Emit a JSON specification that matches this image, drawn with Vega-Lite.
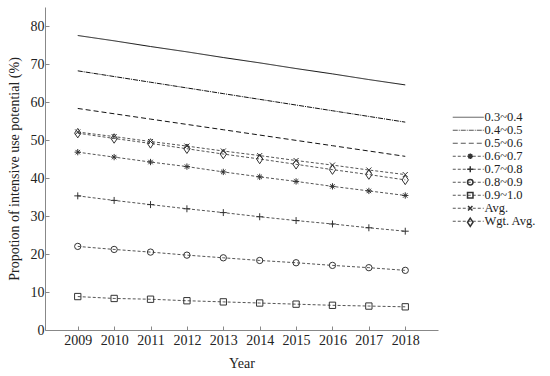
{
  "$schema": "https://vega.github.io/schema/vega-lite/v6.json",
  "width": 393,
  "height": 323,
  "autosize": {"type": "none"},
  "padding": {"left": 45, "top": 7, "right": 112, "bottom": 46},
  "background": "white",
  "config": {
    "view": {"stroke": null},
    "font": "Liberation Serif",
    "axis": {"labelFont": "Liberation Serif", "titleFont": "Liberation Serif", "labelFontSize": 14, "titleFontSize": 14, "titleFontWeight": "normal", "labelColor": "#222", "titleColor": "#222", "domainColor": "#888", "tickColor": "#888", "grid": false},
    "legend": {"labelFont": "Liberation Serif", "labelFontSize": 12.5, "labelColor": "#222", "padding": 0, "rowPadding": 0}
  },
  "data": {"values": [
    {"year": 2009, "series": "0.3~0.4", "value": 77.5}, {"year": 2010, "series": "0.3~0.4", "value": 76.1}, {"year": 2011, "series": "0.3~0.4", "value": 74.6}, {"year": 2012, "series": "0.3~0.4", "value": 73.2}, {"year": 2013, "series": "0.3~0.4", "value": 71.7}, {"year": 2014, "series": "0.3~0.4", "value": 70.3}, {"year": 2015, "series": "0.3~0.4", "value": 68.8}, {"year": 2016, "series": "0.3~0.4", "value": 67.4}, {"year": 2017, "series": "0.3~0.4", "value": 65.9}, {"year": 2018, "series": "0.3~0.4", "value": 64.5},
    {"year": 2009, "series": "0.4~0.5", "value": 68.2}, {"year": 2010, "series": "0.4~0.5", "value": 66.7}, {"year": 2011, "series": "0.4~0.5", "value": 65.2}, {"year": 2012, "series": "0.4~0.5", "value": 63.7}, {"year": 2013, "series": "0.4~0.5", "value": 62.2}, {"year": 2014, "series": "0.4~0.5", "value": 60.7}, {"year": 2015, "series": "0.4~0.5", "value": 59.2}, {"year": 2016, "series": "0.4~0.5", "value": 57.7}, {"year": 2017, "series": "0.4~0.5", "value": 56.2}, {"year": 2018, "series": "0.4~0.5", "value": 54.7},
    {"year": 2009, "series": "0.5~0.6", "value": 58.3}, {"year": 2010, "series": "0.5~0.6", "value": 56.9}, {"year": 2011, "series": "0.5~0.6", "value": 55.5}, {"year": 2012, "series": "0.5~0.6", "value": 54.1}, {"year": 2013, "series": "0.5~0.6", "value": 52.7}, {"year": 2014, "series": "0.5~0.6", "value": 51.3}, {"year": 2015, "series": "0.5~0.6", "value": 49.9}, {"year": 2016, "series": "0.5~0.6", "value": 48.5}, {"year": 2017, "series": "0.5~0.6", "value": 47.1}, {"year": 2018, "series": "0.5~0.6", "value": 45.7},
    {"year": 2009, "series": "0.6~0.7", "value": 46.8}, {"year": 2010, "series": "0.6~0.7", "value": 45.5}, {"year": 2011, "series": "0.6~0.7", "value": 44.2}, {"year": 2012, "series": "0.6~0.7", "value": 43.0}, {"year": 2013, "series": "0.6~0.7", "value": 41.6}, {"year": 2014, "series": "0.6~0.7", "value": 40.3}, {"year": 2015, "series": "0.6~0.7", "value": 39.1}, {"year": 2016, "series": "0.6~0.7", "value": 37.8}, {"year": 2017, "series": "0.6~0.7", "value": 36.6}, {"year": 2018, "series": "0.6~0.7", "value": 35.4},
    {"year": 2009, "series": "0.7~0.8", "value": 35.3}, {"year": 2010, "series": "0.7~0.8", "value": 34.1}, {"year": 2011, "series": "0.7~0.8", "value": 33.0}, {"year": 2012, "series": "0.7~0.8", "value": 31.9}, {"year": 2013, "series": "0.7~0.8", "value": 30.9}, {"year": 2014, "series": "0.7~0.8", "value": 29.8}, {"year": 2015, "series": "0.7~0.8", "value": 28.8}, {"year": 2016, "series": "0.7~0.8", "value": 27.9}, {"year": 2017, "series": "0.7~0.8", "value": 26.9}, {"year": 2018, "series": "0.7~0.8", "value": 26.0},
    {"year": 2009, "series": "0.8~0.9", "value": 22.0}, {"year": 2010, "series": "0.8~0.9", "value": 21.2}, {"year": 2011, "series": "0.8~0.9", "value": 20.5}, {"year": 2012, "series": "0.8~0.9", "value": 19.7}, {"year": 2013, "series": "0.8~0.9", "value": 19.0}, {"year": 2014, "series": "0.8~0.9", "value": 18.3}, {"year": 2015, "series": "0.8~0.9", "value": 17.7}, {"year": 2016, "series": "0.8~0.9", "value": 17.0}, {"year": 2017, "series": "0.8~0.9", "value": 16.4}, {"year": 2018, "series": "0.8~0.9", "value": 15.7},
    {"year": 2009, "series": "0.9~1.0", "value": 8.8}, {"year": 2010, "series": "0.9~1.0", "value": 8.3}, {"year": 2011, "series": "0.9~1.0", "value": 8.1}, {"year": 2012, "series": "0.9~1.0", "value": 7.7}, {"year": 2013, "series": "0.9~1.0", "value": 7.4}, {"year": 2014, "series": "0.9~1.0", "value": 7.1}, {"year": 2015, "series": "0.9~1.0", "value": 6.8}, {"year": 2016, "series": "0.9~1.0", "value": 6.5}, {"year": 2017, "series": "0.9~1.0", "value": 6.3}, {"year": 2018, "series": "0.9~1.0", "value": 6.1},
    {"year": 2009, "series": "Avg.", "value": 52.1}, {"year": 2010, "series": "Avg.", "value": 50.9}, {"year": 2011, "series": "Avg.", "value": 49.6}, {"year": 2012, "series": "Avg.", "value": 48.4}, {"year": 2013, "series": "Avg.", "value": 47.1}, {"year": 2014, "series": "Avg.", "value": 45.9}, {"year": 2015, "series": "Avg.", "value": 44.6}, {"year": 2016, "series": "Avg.", "value": 43.4}, {"year": 2017, "series": "Avg.", "value": 42.1}, {"year": 2018, "series": "Avg.", "value": 40.9},
    {"year": 2009, "series": "Wgt. Avg.", "value": 51.8}, {"year": 2010, "series": "Wgt. Avg.", "value": 50.4}, {"year": 2011, "series": "Wgt. Avg.", "value": 49.1}, {"year": 2012, "series": "Wgt. Avg.", "value": 47.7}, {"year": 2013, "series": "Wgt. Avg.", "value": 46.3}, {"year": 2014, "series": "Wgt. Avg.", "value": 45.0}, {"year": 2015, "series": "Wgt. Avg.", "value": 43.6}, {"year": 2016, "series": "Wgt. Avg.", "value": 42.2}, {"year": 2017, "series": "Wgt. Avg.", "value": 40.9}, {"year": 2018, "series": "Wgt. Avg.", "value": 39.5}
  ]},
  "encoding": {
    "x": {"field": "year", "type": "quantitative", "scale": {"domain": [2008.1, 2018.9], "nice": false, "zero": false},
      "axis": {"title": "Year", "values": [2009, 2010, 2011, 2012, 2013, 2014, 2015, 2016, 2017, 2018], "format": "d", "tickSize": -4, "labelPadding": 7, "titlePadding": 9}},
    "y": {"field": "value", "type": "quantitative", "scale": {"domain": [0, 85], "nice": false},
      "axis": {"title": "Propotion of intensive use potential (%)", "values": [0, 10, 20, 30, 40, 50, 60, 70, 80], "tickSize": -4, "labelPadding": 5, "titlePadding": 9}}
  },
  "layer": [
    {
      "transform": [{"filter": {"field": "series", "oneOf": ["0.3~0.4", "0.4~0.5", "0.5~0.6"]}}],
      "mark": {"type": "line", "strokeWidth": 1, "color": "#111"},
      "encoding": {
        "detail": {"field": "series"},
        "strokeDash": {"field": "series", "type": "nominal",
          "scale": {"domain": ["0.3~0.4", "0.4~0.5", "0.5~0.6", "0.6~0.7", "0.7~0.8", "0.8~0.9", "0.9~1.0", "Avg.", "Wgt. Avg."],
            "range": [[1, 0], [5, 1, 1, 1], [5, 3], [3, 2], [3, 2], [3, 2], [3, 2], [3, 2], [3, 2]]},
          "legend": {"title": null, "orient": "none", "legendX": 417, "legendY": 104, "symbolType": "M-3.1,0H3.1", "symbolSize": 100, "symbolStrokeWidth": 1, "symbolStrokeColor": "#333", "labelOffset": 10}}
      }
    },
    {
      "transform": [{"filter": {"not": {"field": "series", "oneOf": ["0.3~0.4", "0.4~0.5", "0.5~0.6"]}}}],
      "mark": {"type": "line", "strokeWidth": 1, "color": "#555"},
      "encoding": {
        "detail": {"field": "series"},
        "strokeDash": {"field": "series", "type": "nominal"}
      }
    },
    {
      "mark": {"type": "point", "size": 40, "strokeWidth": 1, "filled": false, "stroke": "#333", "opacity": 1},
      "encoding": {
        "shape": {"field": "series", "type": "nominal",
          "scale": {"range": ["M0,0", "M0,0", "M0,0", "M-1,0H1M0,-1V1M-0.7,-0.7L0.7,0.7M-0.7,0.7L0.7,-0.7", "M-1.1,0H1.1M0,-1.1V1.1", "circle", "square", "M-0.8,-0.8L0.8,0.8M-0.8,0.8L0.8,-0.8", "M0,-1.5L1,0L0,1.5L-1,0Z"]},
          "legend": {"title": null, "orient": "none", "legendX": 419, "legendY": 104, "symbolSize": 30, "labelOpacity": 0,
            "encode": {"symbols": {"update": {"stroke": {"value": "#333"}, "fill": {"value": "transparent"}, "opacity": {"value": 1}, "strokeWidth": {"value": 1}}}}}}
      }
    }
  ]
}
